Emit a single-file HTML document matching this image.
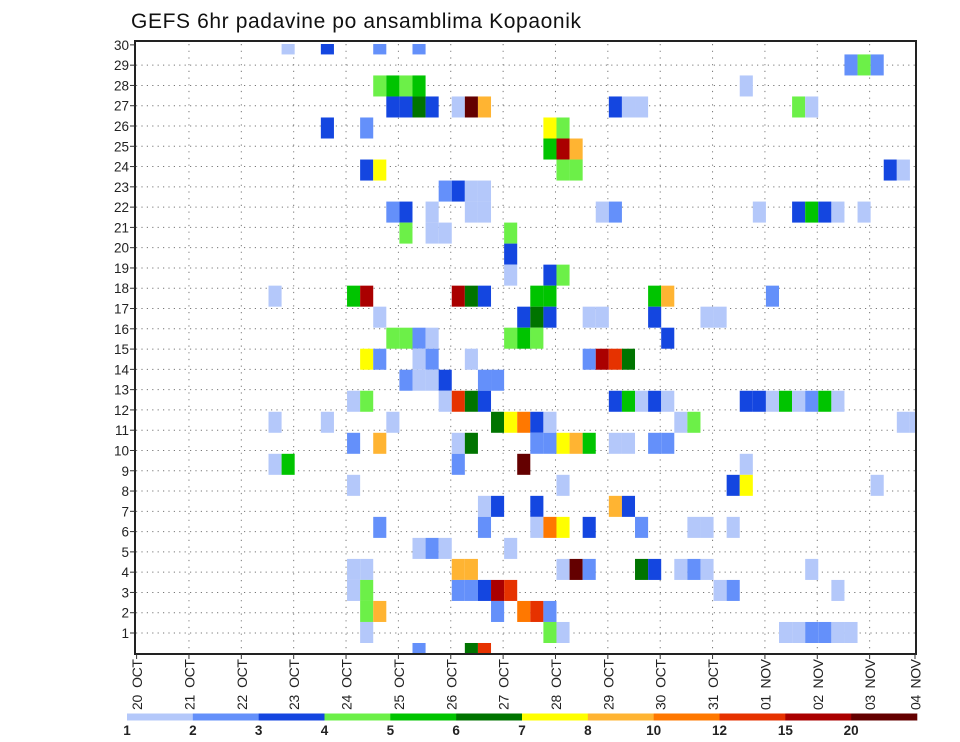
<!DOCTYPE html>
<html><head><meta charset="utf-8">
<style>
html,body{margin:0;padding:0;background:#fff;width:960px;height:742px;overflow:hidden}
svg{display:block;font-family:"Liberation Sans",sans-serif}
</style></head>
<body>
<svg id="chart" width="960" height="742" viewBox="0 0 960 742" xmlns="http://www.w3.org/2000/svg">
<text x="131" y="28" font-size="21" textLength="450" fill="#111">GEFS 6hr padavine po ansamblima Kopaonik</text>
<defs><clipPath id="plotclip"><rect x="135" y="44" width="781" height="610"/></clipPath></defs>
<g id="grid"></g>
<g id="cells" clip-path="url(#plotclip)"></g>
<rect x="135" y="41" width="781" height="613" fill="none" stroke="#222" stroke-width="2"/>
<g id="yaxis"></g>
<g id="xaxis"></g>
<g id="legend"></g>
</svg>
<script>
// ---- data ----
const dayLabels = ["20 OCT","21 OCT","22 OCT","23 OCT","24 OCT","25 OCT","26 OCT","27 OCT","28 OCT","29 OCT","30 OCT","31 OCT","01 NOV","02 NOV","03 NOV","04 NOV"];
const memberLabels = [1,2,3,4,5,6,7,8,9,10,11,12,13,14,15,16,17,18,19,20,21,22,23,24,25,26,27,28,29,30];
const levelLabels = ["1","2","3","4","5","6","7","8","10","12","15","20"];
const levelThresholds = [1,2,3,4,5,6,7,8,10,12,15,20];
const levelColors = ["#b4c8fa","#6490fa","#1446e0","#6cf048","#00c400","#007400","#ffff00","#ffb432","#ff7800","#e63200","#aa0000","#640000"];
const classValue = [1.5,2.5,3.5,4.5,5.5,6.5,7.5,9,11,13.5,17,22];
// cells: member row index, 6-hour step index, precip class (converted to mm below)
const cellMember = [
29,29,29,29, 28,28,28, 27,27,27,27,27,
26,26,26,26,26,26,26,26,26,26,26,26,
25,25,25,25, 24,24,24, 23,23,23,23,23,23, 22,22,22,22,
21,21,21,21,21,21,21,21,21,21,21,21,21,
20,20,20,20, 19, 18,18,18,
17,17,17,17,17,17,17,17,17,17,17,
16,16,16,16,16,16,16,16,16,
15,15,15,15,15,15,15,15,
14,14,14,14,14,14,14,14,14,
13,13,13,13,13,13,
12,12,12,12,12,12,12,12,12,12,12,12,12,12,12,12,12,12,12,
11,11,11,11,11,11,11,11,11,11,11,11,
10,10,10,10,10,10,10,10,10,10,10,10,10,
9,9,9,9,9, 8,8,8,8,8, 7,7,7,7,7,
6,6,6,6,6,6,6,6,6,6, 5,5,5,5,
4,4,4,4,4,4,4,4,4,4,4,4,4,
3,3,3,3,3,3,3,3,3,3,
2,2,2,2,2,2, 1,1,1,1,1,1,1,1,1, 0,0,0];
const cellStep = [
11,14,18,21, 54,55,56, 18,19,20,21,46,
19,20,21,22,24,25,26,36,37,38,50,51,
14,17,31,32, 31,32,33, 17,18,32,33,57,58, 23,24,25,26,
19,20,22,25,26,35,36,47,50,51,52,53,55,
20,22,23,28, 28, 28,31,32,
10,16,17,24,25,26,30,31,39,40,48,
18,29,30,31,34,35,39,43,44,
19,20,21,22,28,29,30,40,
17,18,21,22,25,34,35,36,37,
20,21,22,23,26,27,
16,17,23,24,25,26,36,37,38,39,40,46,47,48,49,50,51,52,53,
10,14,19,27,28,29,30,31,41,42,58,59,
16,18,24,25,30,31,32,33,34,36,37,39,40,
10,11,24,29,46, 16,32,45,46,56, 26,27,30,36,37,
18,26,30,31,32,34,38,42,43,45, 21,22,23,28,
16,17,24,25,32,33,34,38,39,41,42,43,51,
16,17,24,25,26,27,28,44,45,53,
17,18,27,29,30,31, 17,31,32,49,50,51,52,53,54, 21,25,26];
const cellClass = [
0,2,1,1, 1,3,1, 3,4,3,4,0,
2,2,5,2,0,11,7,2,0,0,3,0,
2,1,6,3, 4,10,7, 2,6,3,3,2,0, 1,2,0,0,
1,2,0,0,0,0,1,0,2,4,2,0,0,
3,0,0,3, 2, 0,2,3,
0,4,10,10,5,2,4,4,4,7,1,
0,2,5,2,0,0,2,0,0,
3,3,1,0,3,4,3,2,
6,1,0,1,0,1,10,9,5,
1,0,0,2,1,1,
0,3,0,9,5,2,2,4,0,2,0,2,2,0,4,0,1,4,0,
0,0,0,5,6,8,2,0,0,3,0,0,
1,7,0,5,1,1,6,7,4,0,0,1,1,
0,4,1,11,0, 0,0,2,6,0, 0,2,2,7,2,
1,1,0,8,6,2,1,0,0,0, 0,1,0,0,
0,0,7,7,0,11,1,5,2,0,1,0,0,
0,3,1,1,2,10,9,0,1,0,
3,7,1,8,9,1, 0,3,0,0,0,1,1,0,0, 1,5,9];
const cellPrecip = cellClass.map(c => classValue[c]);

// ---- axes ----
const NS = "http://www.w3.org/2000/svg";
const X0 = 136.6, DAY = 52.36, STEPW = DAY/4, CELL_X0 = 137.6;
const ROW1Y = 633, ROWSP = 20.28;
const CELL_Y0 = 653.5, CELLH = 21.02;
function xDay(d){ return Math.min(X0 + d*DAY, 915); }
function xStep(k){ return CELL_X0 + k*STEPW; }
function yLabel(r){ return ROW1Y - (r-1)*ROWSP; }
function yMember(j){ return CELL_Y0 - j*CELLH; }
function colorFor(v){ let c = levelColors[0]; for(let i=0;i<levelThresholds.length;i++){ if(v>=levelThresholds[i]) c = levelColors[i]; } return c; }
function mk(tag, attrs, parent){ const e=document.createElementNS(NS,tag); for(const a in attrs) e.setAttribute(a,attrs[a]); parent.appendChild(e); return e; }

const grid = document.getElementById('grid');
const cells = document.getElementById('cells');
const yaxis = document.getElementById('yaxis');
const xaxis = document.getElementById('xaxis');
const legend = document.getElementById('legend');

memberLabels.forEach(r => {
  const y = yLabel(r);
  if (r < 30) {
    const l = mk('line',{x1:136,x2:915,y1:y,y2:y,stroke:'#777','stroke-width':1,'stroke-dasharray':'1.2,4.2'},grid);
    
    
  }
  const t = mk('line',{x1:130,x2:135,y1:y,y2:y,stroke:'#333','stroke-width':1},yaxis);
  
  
  const tx = mk('text',{x:129,y:y+5,'font-size':13.5,'text-anchor':'end',fill:'#222'},yaxis);
  tx.textContent = r;
  
  
});

dayLabels.forEach((lab,d) => {
  const x = xDay(d);
  if (d>0 && d<15) {
    const l = mk('line',{x1:x,x2:x,y1:44,y2:653,stroke:'#777','stroke-width':1,'stroke-dasharray':'1.2,5.5'},grid);
    
    
  }
  const t = mk('line',{x1:x,x2:x,y1:654,y2:659,stroke:'#333','stroke-width':1},xaxis);
  
  
  const tx = mk('text',{x:0,y:0,'font-size':14,'text-anchor':'end',fill:'#222',
    transform:`translate(${x+5.5},659) rotate(-90)`,textLength:51,lengthAdjust:'spacing'},xaxis);
  tx.textContent = lab.replace(' ','\u00a0\u00a0');
  
  
});

cellMember.forEach((j,i) => {
  const r = mk('rect',{x:xStep(cellStep[i]),y:yMember(j)-CELLH/2,width:STEPW,height:CELLH,fill:colorFor(cellPrecip[i])},cells);
  
  
});

const LX0 = 127, LW = (917-127)/levelColors.length;
levelColors.forEach((c,i) => {
  const r = mk('rect',{x:LX0+i*LW,y:713.5,width:LW+0.3,height:7,fill:c},legend);
  
  
});
levelLabels.forEach((lab,i) => {
  const t = mk('text',{x:LX0+i*LW,y:735,'font-size':13.5,'font-weight':'bold','text-anchor':'middle',fill:'#222'},legend);
  t.textContent = lab;
  
  
});
</script>
</body></html>
